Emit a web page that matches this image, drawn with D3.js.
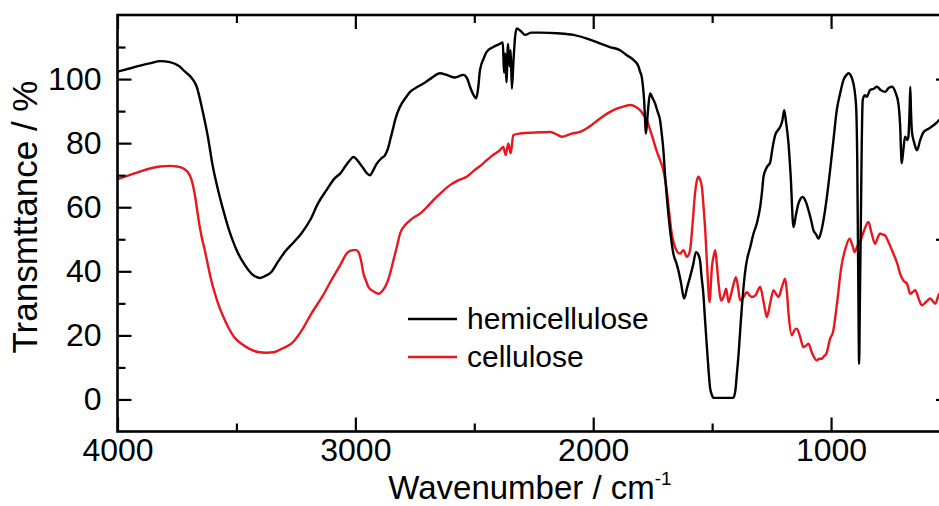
<!DOCTYPE html>
<html>
<head>
<meta charset="utf-8">
<script src="https://cdn.jsdelivr.net/npm/d3@7"></script>
<style>
  body { margin: 0; background: #fff; }
  svg { display: block; font-family: "Liberation Sans", Arial, sans-serif; }
</style>
</head>
<body>
<svg id="chart" width="939" height="506"></svg>
<script>
// hemicellulose spectrum (wavenumber / transmittance)
var hemiWn = [4000, 3950, 3900, 3860, 3821, 3780, 3740, 3716, 3690, 3667, 3645, 3620, 3600, 3577, 3555, 3535, 3515, 3493, 3465, 3437,
    3415, 3402, 3380, 3353, 3325, 3297, 3260, 3227, 3190, 3157, 3120, 3087, 3064, 3040, 3017, 3008, 2985, 2966, 2950, 2938,
    2925, 2910, 2890, 2875, 2862, 2854, 2840, 2833, 2812, 2790, 2770, 2740, 2714, 2680, 2644, 2616, 2581, 2546, 2530, 2518,
    2505, 2492, 2484, 2476, 2460, 2448, 2420, 2392, 2380, 2375, 2370, 2365, 2358, 2352, 2347, 2342, 2335, 2328, 2321, 2305,
    2286, 2260, 2223, 2150, 2083, 2020, 1971, 1930, 1887, 1860, 1831, 1810, 1803, 1796, 1786, 1778, 1770, 1761, 1750, 1740,
    1730, 1719, 1712, 1705, 1698, 1691, 1677, 1663, 1650, 1642, 1630, 1618, 1605, 1593, 1580, 1568, 1560, 1551, 1544, 1537,
    1530, 1522, 1515, 1509, 1500, 1495, 1450, 1411, 1402, 1396, 1389, 1382, 1375, 1368, 1361, 1354, 1340, 1326, 1312, 1298,
    1290, 1284, 1270, 1256, 1245, 1235, 1214, 1205, 1197, 1190, 1179, 1170, 1158, 1148, 1137, 1119, 1105, 1095, 1084, 1074,
    1063, 1053, 1045, 1032, 1018, 1004, 990, 976, 962, 948, 935, 927, 915, 906, 898, 894, 890, 886, 882, 879,
    875, 871, 867, 858, 850, 836, 820, 808, 790, 773, 758, 744, 730, 717, 710, 703, 696, 689, 680, 675,
    670, 667, 664, 660, 650, 639, 625, 611, 590, 569, 555, 545, 530]
var hemiT = [102.3, 103.3, 104.3, 105.0, 105.6, 105.3, 104.0, 102.3, 100.5, 97.6, 91, 82, 73, 65.3, 59, 53.8, 49.5, 45.6, 42, 39.3,
    38.2, 37.9, 38.5, 39.8, 43, 46, 49, 51.8, 56, 61.2, 65.5, 69, 70.5, 73, 75.2, 75.7, 74, 72.1, 70.5, 70,
    71.5, 73.6, 75.3, 76.3, 78.5, 80.9, 85, 87.2, 91.4, 94, 96, 97.5, 98.6, 100.3, 101.8, 101.3, 100.5, 101.3, 100.2, 97.6,
    95.3, 94, 97, 102.8, 106.5, 108.5, 110, 111, 111.4, 102, 108, 99, 111, 104, 109, 97, 106, 113.5, 115.8, 115,
    113.8, 114.5, 114.5, 114.3, 113.8, 112.5, 111.1, 110, 109, 107.5, 106, 104, 102.3, 100.7, 93.4, 83, 90, 95.5, 94, 92.4,
    90, 87.2, 83, 77.8, 70, 63.5, 53, 45.5, 42.5, 40.3, 36, 31.5, 35, 38.2, 42, 46, 45.5, 43.4, 38, 33,
    25, 16.3, 9, 3.8, 1.2, 0.5, 0.5, 0.5, 3, 8, 14, 21.6, 29, 35.1, 40, 43.4, 47.5, 51.8, 55, 60.1,
    65, 69.5, 72.5, 74, 79, 82.5, 85.1, 87, 90.3, 87, 79.9, 70, 53.8, 57.5, 61.2, 63.2, 61.5, 59.1, 56, 52.8,
    51.5, 50.2, 51.5, 55.9, 63, 71.6, 81, 90.3, 95.5, 99.7, 101.3, 101.8, 100.8, 98.6, 94.5, 90.3, 75, 40, 11.1, 30,
    53.8, 80, 93.4, 95, 94.5, 96.6, 97, 97.6, 96.5, 96, 97.2, 97.6, 96, 92.4, 86, 73.7, 78, 82, 81, 82,
    90, 97.6, 90, 83.5, 80, 77.8, 81, 83.5, 84.5, 85.6, 86.5, 87.2, 87.5]

// cellulose spectrum
var celWn = [4000, 3950, 3900, 3863, 3820, 3779, 3750, 3723, 3705, 3688, 3675, 3661, 3647, 3633, 3620, 3606, 3590, 3577, 3555, 3535,
    3510, 3479, 3445, 3409, 3375, 3339, 3305, 3269, 3230, 3185, 3140, 3101, 3064, 3031, 3008, 2996, 2987, 2975, 2966, 2955,
    2945, 2925, 2903, 2885, 2868, 2855, 2840, 2826, 2812, 2790, 2770, 2750, 2728, 2700, 2672, 2640, 2602, 2570, 2532, 2500,
    2462, 2430, 2392, 2378, 2368, 2357, 2347, 2336, 2307, 2250, 2181, 2150, 2132, 2090, 2055, 2030, 1999, 1971, 1940, 1901,
    1870, 1845, 1820, 1803, 1790, 1775, 1760, 1747, 1733, 1719, 1705, 1691, 1680, 1670, 1660, 1650, 1635, 1621, 1606, 1593,
    1582, 1572, 1565, 1558, 1550, 1543, 1536, 1529, 1520, 1511, 1501, 1493, 1487, 1480, 1473, 1462, 1450, 1441, 1431, 1420,
    1410, 1400, 1391, 1382, 1368, 1354, 1343, 1333, 1318, 1298, 1285, 1277, 1270, 1256, 1242, 1232, 1221, 1207, 1193, 1185,
    1179, 1165, 1155, 1144, 1130, 1116, 1105, 1095, 1080, 1060, 1050, 1039, 1030, 1020, 1004, 992, 975, 957, 940, 922,
    910, 901, 890, 878, 860, 843, 830, 815, 804, 794, 785, 773, 755, 738, 720, 710, 695, 681, 667, 657,
    646, 632, 618, 600, 583, 570, 562, 545, 530]
var celT = [68.8, 70, 71.3, 72.1, 72.7, 72.9, 72.7, 72.1, 71, 68.4, 64, 57, 51, 46.6, 42, 37.2, 33, 29.9, 25.8, 22.6,
    19.5, 17.4, 15.8, 14.8, 14.6, 14.8, 16, 17.4, 21, 26.8, 32, 37.2, 41.9, 46, 46.6, 46.6, 46, 43, 39.3, 37,
    35.1, 33.8, 33, 34, 36.2, 39, 43.4, 47.5, 51.8, 54.5, 55.9, 57, 58, 60, 62.2, 64.5, 66.9, 68.3, 69.5, 71.5,
    73.7, 75.8, 77.8, 78.8, 76.3, 79.9, 76.8, 82.5, 83, 83.3, 83.5, 82.6, 82, 83, 83.5, 84.5, 86.1, 87.7, 89.3, 90.8,
    91.5, 91.9, 91.3, 90.3, 89, 87.2, 84, 80.9, 77.5, 74.7, 71.5, 65.3, 58, 51.8, 48.5, 46.5, 45.5, 46.6, 44.5, 46.6,
    55, 64.3, 68, 69.5, 68.5, 66.3, 60, 52.8, 40, 30.4, 41.3, 45, 46.6, 42, 36.2, 30.9, 32.5, 34.6, 30.4, 33,
    36, 38.2, 35, 30.9, 32, 33.5, 32.5, 32, 32.5, 35.1, 31, 27.8, 25.7, 30, 34.1, 33, 32, 35, 37.7, 33,
    27, 20, 21.5, 22.1, 19.5, 16.3, 16.8, 17.4, 14.5, 12.2, 12.7, 12.7, 13.5, 14.3, 19, 21, 30, 41.3, 47, 50.2,
    48, 46, 47.8, 49.2, 53, 55.4, 52, 48.6, 50.5, 51.8, 51.5, 51.2, 48.5, 45.5, 42, 39.3, 37, 36.2, 33, 33.5,
    34.1, 31.5, 29.4, 30.5, 31.5, 30.5, 29.9, 33, 33.5]

var seriesNames = ["hemicellulose", "cellulose"]
var seriesColors = ["#000000", "#e8161d"]
var xMajor = [4000, 3000, 2000, 1000]
var xMinor = [3500, 2500, 1500]
var yMajor = [0, 20, 40, 60, 80, 100]
var yMinor = [10, 30, 50, 70, 90, 110]
var yRight = [0, 50, 100]

// plot box (right edge sits just outside the 939px picture, like the original crop)
var plotLeft = 117.5, plotRight = 950, plotTop = 15, plotBottom = 431.5
var fontSize = 32

var svg = d3.select("#chart")

var x = d3.scaleLinear().domain([4000, 500]).range([plotLeft, plotRight])
var y = d3.scaleLinear().domain([-10, 120]).range([plotBottom, plotTop])

svg.append("defs").append("clipPath").attr("id", "plotclip")
    .append("rect")
    .attr("x", plotLeft).attr("y", plotTop)
    .attr("width", plotRight - plotLeft).attr("height", plotBottom - plotTop)

// spectra
var line = d3.line()
    .x(function (d) { return x(d[0]) })
    .y(function (d) { return y(d[1]) })
    .curve(d3.curveMonotoneX)

var spectra = [
    d3.zip(hemiWn, hemiT),
    d3.zip(celWn, celT)
]

var plot = svg.append("g").attr("clip-path", "url(#plotclip)")
// draw cellulose first so the black line sits on top
for (var i = spectra.length - 1; i >= 0; i--) {
    plot.append("path")
        .datum(spectra[i])
        .attr("fill", "none")
        .attr("stroke", seriesColors[i])
        .attr("stroke-width", 2.4)
        .attr("stroke-linejoin", "round")
        .attr("d", line)
}

// axes, all ticks pointing inward
function styleAxis(g) {
    g.select(".domain").remove()
    g.selectAll("line").attr("stroke", "#000").attr("stroke-width", 2.2)
    g.selectAll("text").attr("fill", "#000").style("font-size", fontSize + "px")
        .style("font-family", "'Liberation Sans', Arial, sans-serif")
}

svg.append("g")
    .attr("transform", "translate(0," + plotBottom + ")")
    .call(d3.axisBottom(x).tickValues(xMajor).tickSize(-14).tickPadding(7).tickFormat(d3.format("d")))
    .call(styleAxis)
svg.append("g")
    .attr("transform", "translate(0," + plotBottom + ")")
    .call(d3.axisBottom(x).tickValues(xMinor).tickSize(-8).tickFormat(""))
    .call(styleAxis)
svg.append("g")
    .attr("transform", "translate(0," + plotTop + ")")
    .call(d3.axisTop(x).tickValues(xMajor).tickSize(-14).tickFormat(""))
    .call(styleAxis)
svg.append("g")
    .attr("transform", "translate(0," + plotTop + ")")
    .call(d3.axisTop(x).tickValues(xMinor).tickSize(-8).tickFormat(""))
    .call(styleAxis)

svg.append("g")
    .attr("transform", "translate(" + plotLeft + ",0)")
    .call(d3.axisLeft(y).tickValues(yMajor).tickSize(-14).tickPadding(16))
    .call(styleAxis)
svg.append("g")
    .attr("transform", "translate(" + plotLeft + ",0)")
    .call(d3.axisLeft(y).tickValues(yMinor).tickSize(-8).tickFormat(""))
    .call(styleAxis)
svg.append("g")
    .attr("transform", "translate(" + plotRight + ",0)")
    .call(d3.axisRight(y).tickValues(yRight).tickSize(-14).tickFormat(""))
    .call(styleAxis)

// frame
svg.append("rect")
    .attr("x", plotLeft).attr("y", plotTop)
    .attr("width", plotRight - plotLeft).attr("height", plotBottom - plotTop)
    .attr("fill", "none")
    .attr("stroke", "#000")
    .attr("stroke-width", 2.6)

// axis titles
var xt = svg.append("text")
    .attr("x", 530).attr("y", 499)
    .attr("text-anchor", "middle")
    .style("font-size", "33px")
    .text("Wavenumber / cm")
xt.append("tspan")
    .attr("dy", -14)
    .style("font-size", "19px")
    .text("-1")

svg.append("text")
    .attr("transform", "translate(37,217) rotate(-90)")
    .attr("text-anchor", "middle")
    .style("font-size", "35px")
    .text("Transmttance / %")

// legend
var legend = svg.append("g").attr("transform", "translate(408,319)")
seriesNames.forEach(function (name, i) {
    var row = legend.append("g").attr("transform", "translate(0," + (i * 38) + ")")
    row.append("line")
        .attr("x1", 0).attr("x2", 49)
        .attr("stroke", seriesColors[i])
        .attr("stroke-width", 2.4)
    row.append("text")
        .attr("x", 59).attr("y", 10)
        .style("font-size", "30px")
        .text(name)
})
</script>
</body>
</html>
